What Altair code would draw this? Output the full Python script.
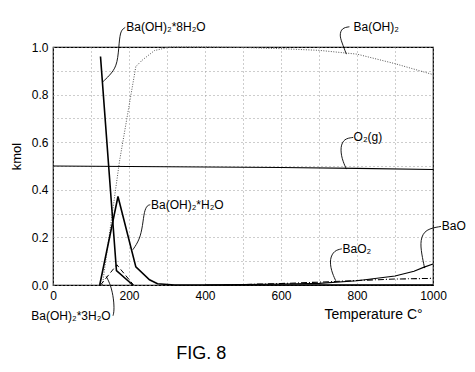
import altair as alt
import pandas as pd

# ---- series data (temperature C, kmol) ----
t_8h2o = [125, 167, 210]
v_8h2o = [0.96, 0.06, 0.0]

t_h2o = [123, 171, 218, 254, 275, 320, 1000]
v_h2o = [0.0, 0.372, 0.076, 0.022, 0.005, 0.0, 0.0]

t_3h2o = [125, 168, 212]
v_3h2o = [0.0, 0.085, 0.0]

t_baoh2 = [130, 175, 218, 235, 267, 307, 400, 500, 600, 700, 800, 900, 1000]
v_baoh2 = [0.0, 0.52, 0.918, 0.945, 0.985, 1.0, 1.0, 0.998, 0.993, 0.986, 0.97, 0.93, 0.884]

t_o2 = [0, 200, 400, 600, 800, 1000]
v_o2 = [0.5, 0.498, 0.496, 0.494, 0.49, 0.485]

t_bao = [400, 500, 600, 700, 800, 900, 950, 975, 1000]
v_bao = [0.0, 0.002, 0.004, 0.007, 0.018, 0.038, 0.058, 0.074, 0.088]

t_bao2 = [450, 500, 600, 700, 800, 900, 1000]
v_bao2 = [0.0, 0.002, 0.006, 0.012, 0.019, 0.025, 0.028]

# ---- annotation labels ----
lab_text = ["Ba(OH)₂*8H₂O", "Ba(OH)₂", "O₂(g)", "Ba(OH)₂*H₂O", "Ba(OH)₂*3H₂O", "BaO₂", "BaO"]
lab_x = [193, 791, 791, 258, -57, 762, 1023]
lab_y = [1.082, 1.085, 0.62, 0.337, -0.129, 0.152, 0.246]

# leader curves (data coords)
lead_x = [
    [132, 155, 170, 174, 178, 190],
    [772, 760, 754, 760, 780],
    [772, 760, 756, 766, 790],
    [210, 228, 236, 240, 248, 256],
    [140, 152, 160, 161, 158],
    [744, 732, 728, 740, 760],
    [978, 970, 966, 980, 1021],
]
lead_y = [
    [0.855, 0.89, 0.93, 1.02, 1.07, 1.082],
    [0.97, 1.02, 1.05, 1.08, 1.085],
    [0.487, 0.53, 0.58, 0.615, 0.62],
    [0.148, 0.19, 0.25, 0.31, 0.335, 0.337],
    [0.036, 0.0, -0.06, -0.11, -0.129],
    [0.018, 0.06, 0.11, 0.145, 0.152],
    [0.071, 0.13, 0.19, 0.235, 0.246],
]

fig_text = ["FIG. 8"]
fig_x = [390]
fig_y = [-0.29]

FONT = "Liberation Sans"

xscale = alt.Scale(domain=[0, 1000], nice=False, zero=False)
yscale = alt.Scale(domain=[0, 1.0], nice=False)

xaxis = alt.Axis(
    values=list(range(0, 1001, 100)),
    labelExpr="datum.value % 200 == 0 ? datum.label : ''",
    format="d",
    title="Temperature C°",
    titleX=320, titleY=29, titleBaseline="middle", titleAlign="center",
    titleFontSize=14, titleFontWeight="normal", titleFont=FONT, titleColor="black",
    labelFont=FONT, labelFontSize=12, labelColor="black", labelPadding=5,
    ticks=False, tickSize=0, domain=False,
    grid=True, gridColor="#9a9a9a", gridDash=[1, 3], gridWidth=1,
    labelFlush=False,
)
yaxis = alt.Axis(
    values=[0, 0.1, 0.2, 0.3, 0.4, 0.5, 0.6, 0.7, 0.8, 0.9, 1.0],
    labelExpr="round(datum.value*10) % 2 == 0 ? format(datum.value, '.1f') : ''",
    title="kmol",
    titleX=-37, titleY=109, titleAngle=-90, titleBaseline="middle", titleAlign="center",
    titleFontSize=13, titleFontWeight="normal", titleFont=FONT, titleColor="black",
    labelFont=FONT, labelFontSize=12, labelColor="black", labelPadding=5,
    ticks=False, tickSize=0, domain=False,
    grid=True, gridColor="#9a9a9a", gridDash=[1, 3], gridWidth=1,
    labelFlush=False,
)

X = alt.X("t:Q", scale=xscale, axis=xaxis)
Y = alt.Y("v:Q", scale=yscale, axis=yaxis)


def series(ts, vs, width=1.0, dash=None, color="black"):
    df = pd.DataFrame({"t": ts, "v": vs})
    kw = dict(color=color, strokeWidth=width, clip=False)
    if dash:
        kw["strokeDash"] = dash
    return alt.Chart(df).mark_line(**kw).encode(x=X, y=Y)


layers = [
    series(t_o2, v_o2, 1.1),
    series(t_baoh2, v_baoh2, 1.0, [1, 1.5], "#555555"),
    series(t_3h2o, v_3h2o, 1.0, [5, 3]),
    series(t_h2o, v_h2o, 1.6),
    series(t_8h2o, v_8h2o, 1.6),
    series(t_bao, v_bao, 1.1),
    series(t_bao2, v_bao2, 1.1, [6, 2, 1, 2]),
]

rows = []
for i, (xs, ys) in enumerate(zip(lead_x, lead_y)):
    for j, (a, b) in enumerate(zip(xs, ys)):
        rows.append({"id": i, "o": j, "t": a, "v": b})
leaders = alt.Chart(pd.DataFrame(rows)).mark_line(
    color="black", strokeWidth=0.9, interpolate="basis", clip=False
).encode(x=X, y=Y, detail="id:N", order="o:Q")

labels = alt.Chart(pd.DataFrame({"t": lab_x, "v": lab_y, "s": lab_text})).mark_text(
    align="left", baseline="middle", font=FONT, fontSize=12, color="black", clip=False
).encode(x=X, y=Y, text="s:N")

fig = alt.Chart(pd.DataFrame({"t": fig_x, "v": fig_y, "s": fig_text})).mark_text(
    align="center", baseline="middle", font=FONT, fontSize=18, color="black", clip=False
).encode(x=X, y=Y, text="s:N")

chart = alt.layer(*layers, leaders, labels, fig).properties(
    width=380, height=238,
    autosize=alt.AutoSizeParams(type="none"),
    padding={"left": 53, "top": 47, "right": 42, "bottom": 87},
    background="white",
).configure_view(stroke="black", strokeWidth=1.2)

chart.save("out.html", embed_options={"renderer": "svg", "actions": False})
